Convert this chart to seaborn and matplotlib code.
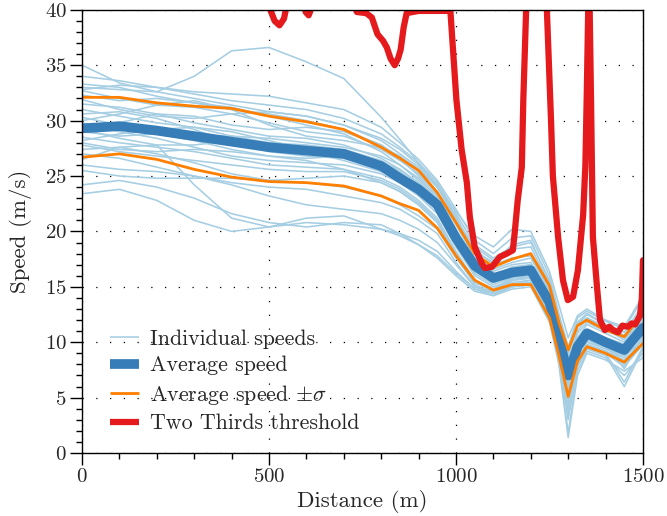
import pandas as pd
import matplotlib.pyplot as plt
from matplotlib.lines import Line2D
from matplotlib.ticker import MultipleLocator
import seaborn as sns

# distances (m) shared by the individual runs and the average / sigma curves
distance = [0, 100, 200, 300, 400, 500, 600, 700, 800, 850, 900, 950, 1000,
            1050, 1100, 1150, 1200, 1250, 1275, 1300, 1325, 1350, 1400, 1450, 1500]

avg_speed = [29.3, 29.5, 29.1, 28.6, 28.1, 27.6, 27.3, 27.0, 25.9, 24.8, 23.8, 22.4, 19.4,
             16.9, 15.8, 16.3, 16.5, 13.6, 10.4, 7.0, 9.6, 10.8, 10.0, 9.3, 11.3]
upper_speed = [32.1, 32.1, 31.6, 31.3, 31.1, 30.4, 29.9, 29.2, 27.6, 26.6, 25.5, 23.5, 20.8,
               18.0, 16.8, 17.5, 18.0, 15.1, 11.8, 9.3, 11.5, 12.0, 11.1, 10.5, 12.6]
lower_speed = [26.7, 27.0, 26.5, 25.6, 24.9, 24.5, 24.4, 24.1, 23.2, 22.5, 21.9, 20.3, 17.8,
               15.6, 14.7, 15.2, 15.2, 12.2, 8.8, 5.1, 8.3, 9.6, 9.0, 8.2, 9.9]

runs = [
    [35.0, 33.4, 32.6, 32.0, 31.4, 30.8, 30.4, 29.6, 28.4, 27.4, 26.0, 24.2, 21.2, 18.4, 17.0, 17.6, 17.8, 14.8, 11.6, 8.4, 11.0, 12.2, 11.4, 10.6, 12.8],
    [33.0, 32.8, 32.6, 34.0, 36.3, 36.6, 35.3, 33.8, 30.3, 28.3, 26.2, 24.0, 21.0, 18.6, 17.4, 18.4, 18.6, 15.2, 12.0, 8.8, 11.6, 12.5, 11.6, 10.9, 13.4],
    [34.0, 33.6, 33.0, 32.6, 32.4, 32.2, 31.6, 31.0, 29.4, 28.0, 26.5, 24.6, 22.0, 19.2, 18.0, 19.4, 19.6, 16.0, 12.6, 9.6, 12.2, 12.8, 11.9, 11.2, 14.0],
    [33.3, 33.0, 32.2, 31.6, 31.0, 30.6, 30.0, 29.2, 27.8, 26.7, 25.4, 23.6, 20.6, 17.6, 16.4, 17.0, 17.2, 14.2, 11.0, 7.8, 10.4, 11.6, 10.8, 10.0, 12.2],
    [32.7, 32.0, 31.4, 31.2, 30.6, 29.8, 29.0, 28.6, 27.4, 26.4, 25.2, 23.4, 20.2, 17.2, 16.0, 16.8, 17.0, 14.0, 10.8, 7.4, 10.0, 11.2, 10.4, 9.8, 11.8],
    [32.3, 31.8, 32.0, 31.6, 31.2, 30.4, 29.6, 28.8, 27.2, 26.0, 24.6, 22.8, 19.8, 16.8, 15.6, 16.2, 16.4, 13.4, 10.2, 6.8, 9.4, 10.8, 10.2, 9.4, 11.4],
    [31.9, 31.0, 30.4, 30.2, 30.6, 30.8, 30.4, 29.6, 28.2, 27.0, 25.8, 24.0, 21.4, 18.0, 16.6, 17.2, 17.6, 14.6, 11.4, 8.0, 10.8, 11.8, 11.0, 10.4, 12.6],
    [31.5, 31.2, 30.6, 29.8, 29.2, 28.6, 28.4, 27.8, 26.6, 25.6, 24.2, 22.6, 19.6, 16.8, 15.8, 16.4, 16.6, 13.6, 10.4, 6.6, 9.6, 10.8, 10.0, 9.2, 11.2],
    [31.0, 30.4, 29.8, 29.4, 28.6, 28.0, 27.8, 27.4, 26.4, 25.4, 24.0, 22.2, 19.2, 16.4, 15.4, 16.0, 16.2, 13.2, 10.0, 6.2, 9.2, 10.6, 9.8, 9.0, 11.0],
    [30.6, 30.8, 30.2, 29.2, 28.0, 27.2, 26.8, 26.6, 25.8, 25.0, 23.6, 22.0, 19.0, 16.2, 15.2, 15.8, 16.0, 13.0, 9.8, 5.8, 9.0, 10.4, 9.6, 8.8, 10.8],
    [30.3, 29.6, 29.0, 28.6, 28.6, 28.4, 28.0, 27.6, 26.8, 26.0, 24.8, 23.0, 20.0, 17.0, 15.8, 16.4, 16.8, 13.8, 10.6, 7.2, 10.2, 11.0, 10.2, 9.6, 11.6],
    [29.8, 29.0, 28.4, 27.6, 26.8, 26.4, 26.2, 26.0, 25.2, 24.4, 23.2, 21.6, 18.6, 16.0, 15.0, 15.6, 15.8, 12.8, 9.6, 5.2, 8.8, 10.2, 9.4, 8.6, 10.4],
    [29.0, 28.6, 28.8, 28.2, 27.4, 26.8, 26.6, 26.8, 26.2, 25.6, 24.4, 22.6, 19.4, 16.6, 15.6, 16.6, 17.0, 14.0, 10.6, 7.0, 9.8, 11.0, 10.4, 9.8, 12.0],
    [28.5, 28.0, 27.6, 27.2, 26.6, 26.0, 25.8, 25.6, 24.8, 24.0, 22.8, 21.2, 18.2, 15.6, 14.8, 15.4, 15.6, 12.6, 9.2, 4.6, 8.4, 9.8, 9.2, 8.4, 10.0],
    [28.2, 28.8, 29.2, 29.4, 29.0, 28.2, 27.4, 27.0, 26.0, 25.2, 24.0, 22.4, 19.6, 16.6, 15.6, 16.4, 16.6, 13.6, 10.2, 6.4, 9.6, 10.8, 9.8, 7.6, 10.6],
    [27.8, 27.2, 26.8, 26.4, 26.0, 25.6, 25.4, 25.4, 24.6, 23.8, 22.6, 21.0, 18.0, 15.4, 14.6, 15.2, 15.4, 12.4, 9.0, 3.8, 8.0, 9.6, 9.0, 6.4, 9.6],
    [27.4, 27.6, 27.0, 26.2, 25.2, 24.6, 24.8, 25.0, 24.4, 23.6, 22.4, 20.8, 17.8, 15.2, 14.4, 15.0, 15.2, 12.2, 8.8, 3.0, 7.8, 9.4, 8.8, 6.0, 9.4],
    [27.0, 26.6, 25.8, 25.0, 24.4, 24.0, 23.8, 23.2, 22.6, 22.0, 21.0, 19.8, 17.2, 15.0, 14.4, 15.0, 15.2, 12.0, 8.4, 1.8, 7.4, 9.2, 8.6, 7.0, 9.0],
    [26.5, 27.6, 27.8, 24.2, 21.2, 20.4, 20.8, 20.6, 20.2, 19.8, 19.2, 18.2, 16.4, 14.8, 14.2, 14.8, 15.0, 11.8, 8.0, 1.4, 7.0, 9.0, 8.4, 7.4, 8.6],
    [26.0, 25.6, 25.4, 25.0, 24.2, 23.2, 22.4, 22.0, 21.6, 21.0, 20.2, 19.0, 17.0, 15.0, 14.6, 15.6, 15.8, 12.8, 9.4, 4.2, 8.6, 10.0, 9.4, 8.8, 10.2],
    [25.5, 25.0, 24.8, 24.8, 24.8, 24.6, 24.4, 24.0, 23.2, 22.4, 21.4, 20.2, 17.6, 15.4, 14.8, 15.8, 16.0, 13.0, 9.6, 5.0, 8.6, 10.2, 9.6, 9.0, 10.8],
    [24.2, 24.6, 24.0, 23.0, 21.6, 20.8, 20.4, 20.8, 20.6, 19.8, 18.8, 17.6, 16.0, 14.6, 14.2, 15.0, 15.4, 12.4, 9.0, 3.4, 8.2, 9.6, 9.0, 7.8, 9.8],
    [23.4, 23.8, 22.8, 21.0, 20.0, 20.4, 21.2, 21.4, 20.2, 19.6, 18.8, 17.8, 16.2, 14.8, 14.4, 15.2, 15.6, 12.6, 9.2, 4.0, 8.4, 9.8, 9.2, 8.0, 10.0],
    [30.0, 30.6, 31.4, 31.8, 31.0, 29.6, 28.6, 28.2, 27.6, 26.8, 25.6, 24.0, 21.8, 19.6, 18.6, 20.2, 20.0, 16.4, 13.4, 10.4, 12.4, 13.0, 12.0, 11.4, 14.2],
    [29.4, 29.8, 30.6, 30.4, 29.6, 29.2, 29.4, 29.0, 27.8, 26.6, 25.0, 23.2, 20.8, 18.2, 17.2, 18.8, 19.2, 15.4, 12.2, 9.2, 11.6, 12.2, 11.2, 10.2, 12.4],
    [32.8, 33.2, 33.0, 32.4, 31.8, 31.4, 31.0, 30.2, 28.8, 27.6, 26.2, 24.4, 21.6, 18.8, 17.6, 18.6, 19.0, 15.6, 12.2, 9.4, 11.8, 12.6, 11.6, 10.6, 13.0],
    [28.0, 27.4, 27.2, 27.4, 27.2, 26.8, 26.4, 25.6, 24.4, 23.6, 22.4, 20.8, 18.0, 15.6, 14.8, 15.6, 16.0, 13.0, 9.6, 5.6, 9.0, 10.4, 9.8, 8.2, 10.4],
    [29.2, 28.4, 27.8, 27.8, 28.2, 27.8, 27.2, 26.4, 25.4, 24.8, 23.8, 22.2, 19.4, 16.4, 15.4, 16.2, 16.4, 13.4, 10.2, 6.6, 9.8, 11.0, 10.2, 9.6, 11.8],
]

# two thirds threshold (values above 40 run off the top of the plot)
red_distance = [0, 480, 500, 515, 528, 540, 548, 590, 598, 606, 614, 630, 720, 735, 760, 775,
                790, 805, 815, 825, 836, 845, 852, 860, 868, 900, 960, 985, 1001, 1015, 1029,
                1037, 1050, 1069, 1077, 1096, 1117, 1136, 1152, 1157, 1165, 1176, 1180, 1188,
                1200, 1230, 1243, 1254, 1259, 1273, 1286, 1299, 1313, 1326, 1340, 1346, 1350,
                1354, 1357, 1361, 1366, 1377, 1385, 1398, 1410, 1420, 1433, 1445, 1460, 1470,
                1479, 1492, 1497, 1500]
red_speed = [46, 46, 40.3, 39.0, 38.6, 39.2, 40.5, 41, 39.8, 39.5, 40.2, 41, 41, 39.8, 39.7, 39.3,
             37.8, 37.2, 36.6, 35.6, 35.0, 35.6, 36.4, 38.4, 39.7, 39.9, 39.9, 39.9, 31.9, 27.4, 24.4,
             21.3, 18.6, 17.1, 16.7, 16.8, 17.7, 18.0, 18.3, 19.9, 22.8, 25.8, 31.9, 40.5,
             46, 46, 40.0, 30.1, 25.0, 19.5, 15.6, 13.8, 14.1, 16.5, 21.5, 26.0, 33.0,
             41, 41, 32.0, 19.5, 15.0, 12.0, 11.1, 11.4, 11.1, 10.9, 11.5, 11.4, 11.7,
             11.6, 12.4, 14.0, 17.4]

c_ind = '#a6cee3'
c_avg = '#377eb8'
c_sig = '#ff7f00'
c_red = '#e41a1c'

sns.set_style('ticks')
plt.rcParams['font.family'] = ['cmr10', 'DejaVu Sans']
plt.rcParams['mathtext.fontset'] = 'cm'
plt.rcParams['axes.formatter.use_mathtext'] = True
plt.rcParams['axes.unicode_minus'] = False

rows = []
for i, run in enumerate(runs):
    for d, v in zip(distance, run):
        rows.append((i, d, v))
df_runs = pd.DataFrame(rows, columns=['run', 'distance', 'speed'])

fig = plt.figure(figsize=(6.67, 5.16), dpi=100)
ax = fig.add_axes([0.123, 0.122, 0.841, 0.859])

sns.lineplot(data=df_runs, x='distance', y='speed', units='run', estimator=None,
             color=c_ind, lw=1.15, ax=ax)
sns.lineplot(x=distance, y=avg_speed, color=c_avg, lw=7, ax=ax)
sns.lineplot(x=distance, y=upper_speed, color=c_sig, lw=2, ax=ax)
sns.lineplot(x=distance, y=lower_speed, color=c_sig, lw=2, ax=ax)
sns.lineplot(x=red_distance, y=red_speed, color=c_red, lw=4.5, ax=ax)

ax.set_xlim(0, 1500)
ax.set_ylim(0, 40)
ax.xaxis.set_major_locator(MultipleLocator(500))
ax.xaxis.set_minor_locator(MultipleLocator(100))
ax.yaxis.set_major_locator(MultipleLocator(5))
ax.yaxis.set_minor_locator(MultipleLocator(1))
ax.grid(True, which='major', color='black', linestyle=(0, (1, 10)), lw=0.9)
ax.tick_params(which='both', direction='out', top=False, right=False, color='black',
               labelsize=15, width=1)
ax.tick_params(which='major', length=8.5, pad=2.5)
ax.tick_params(which='minor', length=4.5)
for sp in ax.spines.values():
    sp.set_color('black')
    sp.set_linewidth(1.0)

ax.set_xlabel('Distance (m)', fontsize=16.5, labelpad=3)
ax.set_ylabel('Speed (m/s)', fontsize=16.5, labelpad=9)

handles = [Line2D([], [], color=c_ind, lw=1.15, solid_capstyle='butt'),
           Line2D([], [], color=c_avg, lw=7, solid_capstyle='butt'),
           Line2D([], [], color=c_sig, lw=2, solid_capstyle='butt'),
           Line2D([], [], color=c_red, lw=4.5, solid_capstyle='butt')]
labels = ['Individual speeds', 'Average speed', r'Average speed $\pm\sigma$', 'Two Thirds threshold']
ax.legend(handles, labels, loc='lower left', frameon=False, fontsize=15.8,
          handlelength=1.3, handletextpad=0.5, labelspacing=0.33,
          bbox_to_anchor=(0.015, 0.0))

fig.savefig('out.png', dpi=100)
